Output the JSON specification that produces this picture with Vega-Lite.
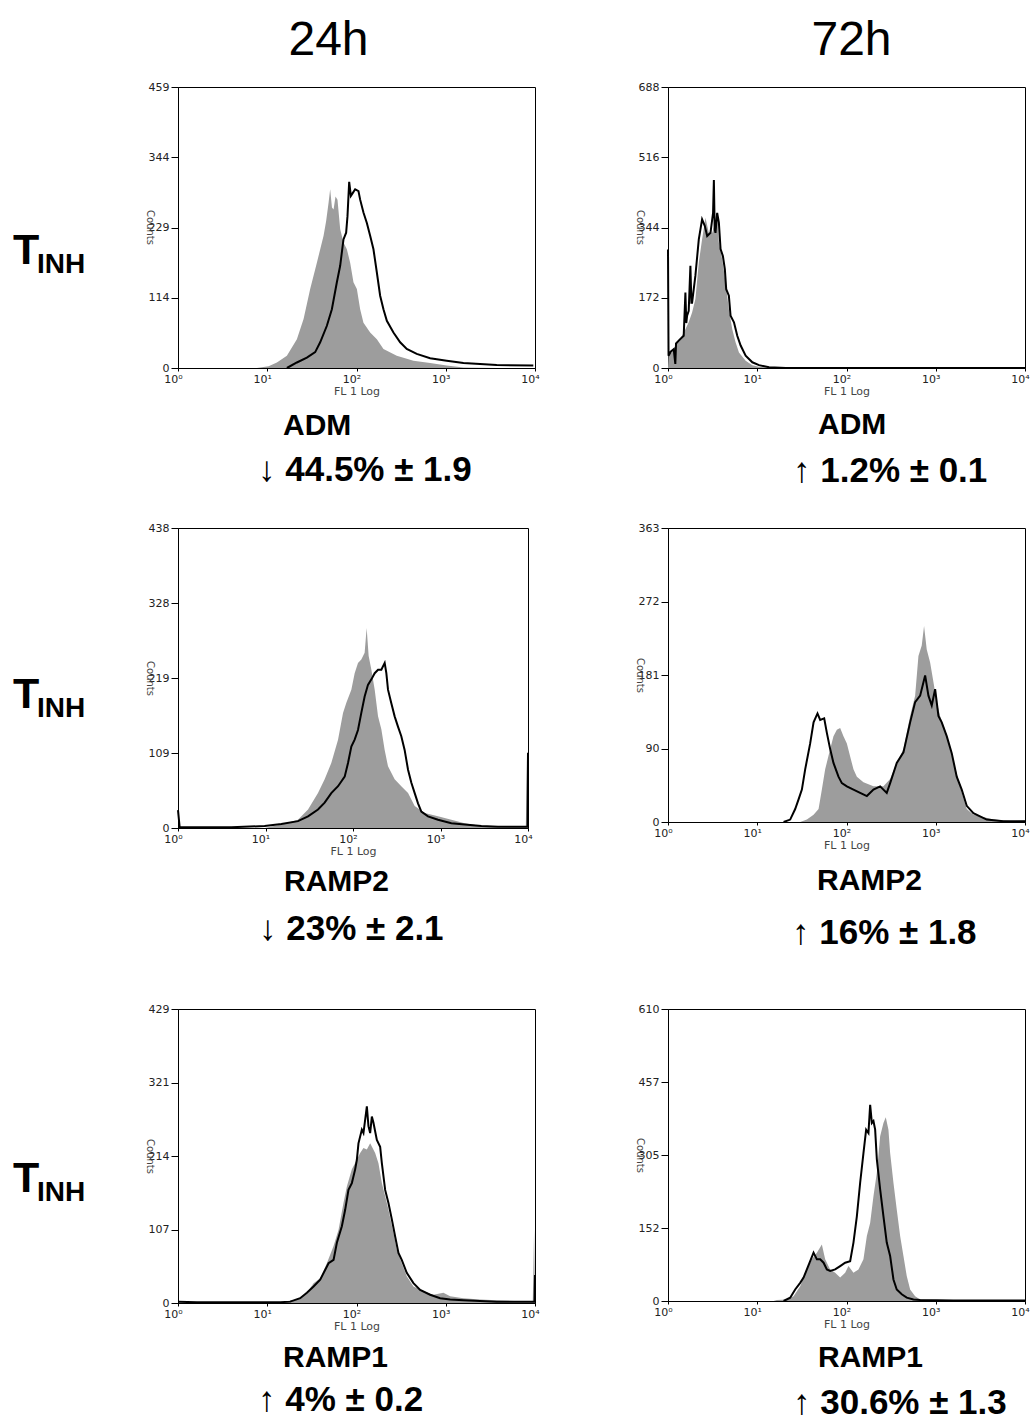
{
  "$schema": "https://vega.github.io/schema/vega-lite/v6.json",
  "background": "white",
  "padding": {"left": 0, "top": 15, "right": 0, "bottom": 5},
  "columns": 3,
  "spacing": {"row": 160, "column": 133},
  "bounds": "flush",
  "config": {
    "view": {"stroke": "#000", "strokeWidth": 1},
    "font": "Liberation Sans",
    "axis": {"grid": false, "domainColor": "#000", "tickColor": "#000", "labelColor": "#222", "labelFont": "DejaVu Sans", "labelFontSize": 11, "titleFont": "DejaVu Sans", "titleFontWeight": "normal", "titleFontSize": 11, "titleColor": "#444", "labelFlush": false, "labelOverlap": false}
  },
  "datasets": {
    "p1_grey": [{"logFL":0.884,"count":0},{"logFL":1.015,"count":3},{"logFL":1.108,"count":9},{"logFL":1.22,"count":20},{"logFL":1.332,"count":47},{"logFL":1.407,"count":80},{"logFL":1.481,"count":129},{"logFL":1.556,"count":172},{"logFL":1.631,"count":216},{"logFL":1.66,"count":240},{"logFL":1.687,"count":270},{"logFL":1.705,"count":292},{"logFL":1.725,"count":262},{"logFL":1.743,"count":259},{"logFL":1.765,"count":280},{"logFL":1.787,"count":275},{"logFL":1.817,"count":227},{"logFL":1.854,"count":205},{"logFL":1.892,"count":194},{"logFL":1.929,"count":172},{"logFL":1.966,"count":140},{"logFL":2.004,"count":129},{"logFL":2.041,"count":96},{"logFL":2.078,"count":74},{"logFL":2.153,"count":58},{"logFL":2.228,"count":47},{"logFL":2.302,"count":31},{"logFL":2.451,"count":20},{"logFL":2.638,"count":12},{"logFL":2.825,"count":8},{"logFL":3.011,"count":4},{"logFL":3.198,"count":1},{"logFL":3.571,"count":0},{"logFL":4.0,"count":0}],
    "p1_black": [{"logFL":1.22,"count":0},{"logFL":1.332,"count":9},{"logFL":1.444,"count":17},{"logFL":1.537,"count":26},{"logFL":1.593,"count":42},{"logFL":1.668,"count":69},{"logFL":1.724,"count":96},{"logFL":1.78,"count":140},{"logFL":1.817,"count":167},{"logFL":1.854,"count":210},{"logFL":1.884,"count":221},{"logFL":1.899,"count":248},{"logFL":1.918,"count":304},{"logFL":1.937,"count":281},{"logFL":1.959,"count":286},{"logFL":1.985,"count":292},{"logFL":2.022,"count":289},{"logFL":2.041,"count":275},{"logFL":2.078,"count":254},{"logFL":2.116,"count":237},{"logFL":2.153,"count":216},{"logFL":2.19,"count":194},{"logFL":2.228,"count":156},{"logFL":2.265,"count":118},{"logFL":2.302,"count":96},{"logFL":2.34,"count":77},{"logFL":2.414,"count":58},{"logFL":2.489,"count":42},{"logFL":2.563,"count":31},{"logFL":2.675,"count":23},{"logFL":2.825,"count":16},{"logFL":3.011,"count":12},{"logFL":3.198,"count":8},{"logFL":3.571,"count":5},{"logFL":3.981,"count":4}],
    "p2_grey": [{"logFL":0.0,"count":0},{"logFL":0.008,"count":40},{"logFL":0.045,"count":38},{"logFL":0.101,"count":63},{"logFL":0.157,"count":79},{"logFL":0.195,"count":95},{"logFL":0.232,"count":112},{"logFL":0.27,"count":136},{"logFL":0.307,"count":169},{"logFL":0.345,"count":258},{"logFL":0.382,"count":315},{"logFL":0.42,"count":368},{"logFL":0.457,"count":331},{"logFL":0.495,"count":331},{"logFL":0.532,"count":356},{"logFL":0.555,"count":364},{"logFL":0.57,"count":307},{"logFL":0.607,"count":266},{"logFL":0.645,"count":209},{"logFL":0.682,"count":144},{"logFL":0.72,"count":95},{"logFL":0.757,"count":63},{"logFL":0.795,"count":38},{"logFL":0.87,"count":18},{"logFL":0.945,"count":7},{"logFL":1.02,"count":3},{"logFL":1.132,"count":1},{"logFL":1.245,"count":0},{"logFL":4.0,"count":0}],
    "p2_black": [{"logFL":0.0,"count":290},{"logFL":0.006,"count":30},{"logFL":0.03,"count":40},{"logFL":0.064,"count":46},{"logFL":0.082,"count":10},{"logFL":0.09,"count":60},{"logFL":0.12,"count":67},{"logFL":0.176,"count":79},{"logFL":0.195,"count":185},{"logFL":0.205,"count":110},{"logFL":0.214,"count":128},{"logFL":0.232,"count":140},{"logFL":0.251,"count":250},{"logFL":0.262,"count":160},{"logFL":0.27,"count":160},{"logFL":0.307,"count":226},{"logFL":0.345,"count":315},{"logFL":0.382,"count":364},{"logFL":0.412,"count":348},{"logFL":0.439,"count":323},{"logFL":0.476,"count":331},{"logFL":0.505,"count":380},{"logFL":0.514,"count":460},{"logFL":0.523,"count":340},{"logFL":0.532,"count":331},{"logFL":0.551,"count":380},{"logFL":0.57,"count":356},{"logFL":0.589,"count":291},{"logFL":0.615,"count":274},{"logFL":0.637,"count":242},{"logFL":0.652,"count":193},{"logFL":0.682,"count":177},{"logFL":0.701,"count":128},{"logFL":0.739,"count":112},{"logFL":0.776,"count":79},{"logFL":0.814,"count":55},{"logFL":0.87,"count":30},{"logFL":0.945,"count":14},{"logFL":1.02,"count":7},{"logFL":1.132,"count":2},{"logFL":1.32,"count":0},{"logFL":4.0,"count":0}],
    "p3_grey": [{"logFL":0.99,"count":0},{"logFL":1.181,"count":5},{"logFL":1.371,"count":12},{"logFL":1.486,"count":27},{"logFL":1.6,"count":51},{"logFL":1.676,"count":71},{"logFL":1.752,"count":95},{"logFL":1.829,"count":129},{"logFL":1.886,"count":168},{"logFL":1.924,"count":183},{"logFL":1.981,"count":202},{"logFL":2.019,"count":226},{"logFL":2.057,"count":241},{"logFL":2.095,"count":246},{"logFL":2.133,"count":256},{"logFL":2.156,"count":292},{"logFL":2.179,"count":251},{"logFL":2.21,"count":231},{"logFL":2.248,"count":202},{"logFL":2.286,"count":163},{"logFL":2.324,"count":144},{"logFL":2.362,"count":114},{"logFL":2.4,"count":90},{"logFL":2.476,"count":71},{"logFL":2.552,"count":61},{"logFL":2.629,"count":51},{"logFL":2.705,"count":32},{"logFL":2.819,"count":22},{"logFL":2.971,"count":17},{"logFL":3.124,"count":12},{"logFL":3.276,"count":7},{"logFL":3.467,"count":3},{"logFL":3.657,"count":1},{"logFL":3.975,"count":2},{"logFL":3.99,"count":114},{"logFL":4.0,"count":0}],
    "p3_black": [{"logFL":0.0,"count":26},{"logFL":0.019,"count":1},{"logFL":0.61,"count":1},{"logFL":0.99,"count":3},{"logFL":1.181,"count":6},{"logFL":1.371,"count":10},{"logFL":1.486,"count":17},{"logFL":1.6,"count":27},{"logFL":1.676,"count":37},{"logFL":1.752,"count":51},{"logFL":1.829,"count":61},{"logFL":1.905,"count":75},{"logFL":1.943,"count":95},{"logFL":1.981,"count":119},{"logFL":2.019,"count":129},{"logFL":2.057,"count":143},{"logFL":2.095,"count":168},{"logFL":2.133,"count":192},{"logFL":2.171,"count":209},{"logFL":2.21,"count":217},{"logFL":2.248,"count":226},{"logFL":2.286,"count":231},{"logFL":2.324,"count":231},{"logFL":2.362,"count":241},{"logFL":2.381,"count":226},{"logFL":2.4,"count":202},{"logFL":2.438,"count":182},{"logFL":2.476,"count":163},{"logFL":2.514,"count":148},{"logFL":2.552,"count":134},{"logFL":2.59,"count":114},{"logFL":2.629,"count":85},{"logFL":2.667,"count":66},{"logFL":2.705,"count":51},{"logFL":2.743,"count":36},{"logFL":2.781,"count":24},{"logFL":2.857,"count":17},{"logFL":2.971,"count":12},{"logFL":3.124,"count":7},{"logFL":3.276,"count":5},{"logFL":3.467,"count":3},{"logFL":3.657,"count":2},{"logFL":3.995,"count":2},{"logFL":4.0,"count":110}],
    "p4_grey": [{"logFL":1.481,"count":0},{"logFL":1.556,"count":3},{"logFL":1.631,"count":9},{"logFL":1.687,"count":16},{"logFL":1.724,"count":40},{"logFL":1.761,"count":65},{"logFL":1.799,"count":82},{"logFL":1.854,"count":106},{"logFL":1.892,"count":114},{"logFL":1.929,"count":116},{"logFL":1.966,"count":106},{"logFL":2.004,"count":97},{"logFL":2.041,"count":81},{"logFL":2.078,"count":65},{"logFL":2.116,"count":56},{"logFL":2.19,"count":49},{"logFL":2.302,"count":44},{"logFL":2.414,"count":44},{"logFL":2.489,"count":53},{"logFL":2.563,"count":73},{"logFL":2.638,"count":90},{"logFL":2.713,"count":131},{"logFL":2.769,"count":156},{"logFL":2.806,"count":205},{"logFL":2.843,"count":218},{"logFL":2.869,"count":242},{"logFL":2.899,"count":213},{"logFL":2.937,"count":197},{"logFL":2.974,"count":173},{"logFL":3.011,"count":148},{"logFL":3.049,"count":131},{"logFL":3.104,"count":114},{"logFL":3.16,"count":90},{"logFL":3.235,"count":60},{"logFL":3.291,"count":36},{"logFL":3.347,"count":16},{"logFL":3.422,"count":9},{"logFL":3.496,"count":7},{"logFL":3.646,"count":3},{"logFL":3.869,"count":1},{"logFL":4.0,"count":2}],
    "p4_black": [{"logFL":1.295,"count":0},{"logFL":1.369,"count":3},{"logFL":1.425,"count":16},{"logFL":1.463,"count":28},{"logFL":1.5,"count":40},{"logFL":1.537,"count":65},{"logFL":1.593,"count":97},{"logFL":1.631,"count":123},{"logFL":1.675,"count":134},{"logFL":1.705,"count":126},{"logFL":1.75,"count":128},{"logFL":1.78,"count":110},{"logFL":1.817,"count":90},{"logFL":1.854,"count":73},{"logFL":1.91,"count":56},{"logFL":1.948,"count":48},{"logFL":2.004,"count":44},{"logFL":2.078,"count":40},{"logFL":2.153,"count":36},{"logFL":2.228,"count":32},{"logFL":2.302,"count":40},{"logFL":2.377,"count":44},{"logFL":2.451,"count":36},{"logFL":2.489,"count":48},{"logFL":2.563,"count":73},{"logFL":2.638,"count":86},{"logFL":2.713,"count":123},{"logFL":2.769,"count":148},{"logFL":2.825,"count":156},{"logFL":2.881,"count":181},{"logFL":2.918,"count":156},{"logFL":2.955,"count":144},{"logFL":2.993,"count":164},{"logFL":3.03,"count":131},{"logFL":3.067,"count":123},{"logFL":3.123,"count":106},{"logFL":3.179,"count":85},{"logFL":3.235,"count":56},{"logFL":3.291,"count":40},{"logFL":3.347,"count":20},{"logFL":3.422,"count":11},{"logFL":3.496,"count":7},{"logFL":3.571,"count":3},{"logFL":3.757,"count":1},{"logFL":4.0,"count":1}],
    "p5_grey": [{"logFL":1.071,"count":0},{"logFL":1.146,"count":1},{"logFL":1.332,"count":5},{"logFL":1.444,"count":15},{"logFL":1.519,"count":29},{"logFL":1.593,"count":36},{"logFL":1.668,"count":58},{"logFL":1.743,"count":83},{"logFL":1.799,"count":107},{"logFL":1.854,"count":146},{"logFL":1.892,"count":170},{"logFL":1.948,"count":195},{"logFL":2.004,"count":209},{"logFL":2.041,"count":219},{"logFL":2.078,"count":226},{"logFL":2.116,"count":224},{"logFL":2.153,"count":233},{"logFL":2.209,"count":219},{"logFL":2.246,"count":204},{"logFL":2.284,"count":175},{"logFL":2.321,"count":156},{"logFL":2.358,"count":136},{"logFL":2.414,"count":102},{"logFL":2.451,"count":78},{"logFL":2.507,"count":58},{"logFL":2.563,"count":39},{"logFL":2.638,"count":24},{"logFL":2.75,"count":17},{"logFL":2.862,"count":12},{"logFL":2.974,"count":15},{"logFL":3.049,"count":10},{"logFL":3.198,"count":7},{"logFL":3.384,"count":5},{"logFL":3.571,"count":4},{"logFL":3.975,"count":2},{"logFL":3.99,"count":107},{"logFL":4.0,"count":0}],
    "p5_black": [{"logFL":0.0,"count":2},{"logFL":0.213,"count":1},{"logFL":1.146,"count":1},{"logFL":1.257,"count":2},{"logFL":1.369,"count":7},{"logFL":1.444,"count":15},{"logFL":1.519,"count":24},{"logFL":1.593,"count":34},{"logFL":1.687,"count":58},{"logFL":1.743,"count":63},{"logFL":1.78,"count":88},{"logFL":1.836,"count":112},{"logFL":1.873,"count":136},{"logFL":1.91,"count":165},{"logFL":1.948,"count":175},{"logFL":1.985,"count":195},{"logFL":2.004,"count":209},{"logFL":2.022,"count":233},{"logFL":2.06,"count":253},{"logFL":2.078,"count":248},{"logFL":2.116,"count":287},{"logFL":2.134,"count":258},{"logFL":2.153,"count":248},{"logFL":2.172,"count":272},{"logFL":2.19,"count":263},{"logFL":2.228,"count":238},{"logFL":2.265,"count":228},{"logFL":2.284,"count":204},{"logFL":2.321,"count":165},{"logFL":2.358,"count":146},{"logFL":2.396,"count":122},{"logFL":2.433,"count":97},{"logFL":2.47,"count":73},{"logFL":2.507,"count":63},{"logFL":2.563,"count":44},{"logFL":2.638,"count":29},{"logFL":2.713,"count":19},{"logFL":2.825,"count":12},{"logFL":2.937,"count":7},{"logFL":3.049,"count":5},{"logFL":3.198,"count":4},{"logFL":3.571,"count":2},{"logFL":3.995,"count":2},{"logFL":4.0,"count":41}],
    "p6_grey": [{"logFL":1.183,"count":0},{"logFL":1.22,"count":2},{"logFL":1.332,"count":3},{"logFL":1.407,"count":10},{"logFL":1.481,"count":31},{"logFL":1.556,"count":66},{"logFL":1.612,"count":87},{"logFL":1.668,"count":101},{"logFL":1.724,"count":118},{"logFL":1.761,"count":87},{"logFL":1.817,"count":66},{"logFL":1.873,"count":59},{"logFL":1.929,"count":49},{"logFL":1.985,"count":59},{"logFL":2.022,"count":73},{"logFL":2.078,"count":59},{"logFL":2.134,"count":66},{"logFL":2.19,"count":87},{"logFL":2.228,"count":136},{"logFL":2.265,"count":163},{"logFL":2.302,"count":219},{"logFL":2.34,"count":268},{"logFL":2.377,"count":344},{"logFL":2.414,"count":372},{"logFL":2.44,"count":384},{"logFL":2.47,"count":358},{"logFL":2.489,"count":309},{"logFL":2.526,"count":247},{"logFL":2.563,"count":191},{"logFL":2.601,"count":136},{"logFL":2.638,"count":94},{"logFL":2.675,"count":52},{"logFL":2.713,"count":24},{"logFL":2.769,"count":10},{"logFL":2.825,"count":3},{"logFL":3.011,"count":2},{"logFL":3.571,"count":1},{"logFL":4.0,"count":0}],
    "p6_black": [{"logFL":1.295,"count":0},{"logFL":1.369,"count":7},{"logFL":1.425,"count":24},{"logFL":1.481,"count":38},{"logFL":1.519,"count":49},{"logFL":1.556,"count":66},{"logFL":1.601,"count":87},{"logFL":1.631,"count":101},{"logFL":1.668,"count":87},{"logFL":1.705,"count":87},{"logFL":1.743,"count":80},{"logFL":1.78,"count":66},{"logFL":1.817,"count":63},{"logFL":1.873,"count":66},{"logFL":1.929,"count":73},{"logFL":1.985,"count":80},{"logFL":2.041,"count":83},{"logFL":2.078,"count":122},{"logFL":2.116,"count":177},{"logFL":2.153,"count":247},{"logFL":2.19,"count":309},{"logFL":2.22,"count":358},{"logFL":2.246,"count":351},{"logFL":2.265,"count":410},{"logFL":2.284,"count":372},{"logFL":2.302,"count":376},{"logFL":2.321,"count":358},{"logFL":2.34,"count":296},{"logFL":2.377,"count":233},{"logFL":2.414,"count":177},{"logFL":2.451,"count":122},{"logFL":2.489,"count":94},{"logFL":2.526,"count":45},{"logFL":2.563,"count":24},{"logFL":2.619,"count":14},{"logFL":2.675,"count":7},{"logFL":2.75,"count":3},{"logFL":2.825,"count":2},{"logFL":3.198,"count":1},{"logFL":4.0,"count":1}]
  },
  "concat": [
    {
      "width": 45, "height": 281, "view": {"stroke": null},
      "data": {"values": [{"main": "T", "sub": "INH"}]},
      "layer": [
        {"mark": {"type": "text", "font": "Liberation Sans", "fontSize": 43, "fontWeight": "bold", "color": "#000", "align": "left", "baseline": "alphabetic", "dx": -9.5, "dy": 36.5}, "encoding": {"text": {"field": "main"}}},
        {"mark": {"type": "text", "font": "Liberation Sans", "fontSize": 28, "fontWeight": "bold", "color": "#000", "align": "left", "baseline": "alphabetic", "dx": 14.5, "dy": 45.5}, "encoding": {"text": {"field": "sub"}}}
      ]
    },
    {
      "width": 357, "height": 281,
      "title": {"text": "\u200b\u00a0\u00a0\u00a0ADM", "subtitle": "↓ 44.5% ± 1.9", "orient": "bottom", "anchor": "start", "frame": "group", "dx": 80, "offset": 15, "subtitlePadding": 12, "font": "Liberation Sans", "fontSize": 30, "fontWeight": "bold", "color": "#000", "subtitleFont": "Liberation Sans", "subtitleFontSize": 35, "subtitleFontWeight": "bold", "subtitleColor": "#000"},
      "encoding": {"y": {"field": "count", "type": "quantitative", "scale": {"domain": [0, 459], "nice": false}, "axis": {"values": [0, 114.75, 229.5, 344.25, 459], "labelExpr": "floor(datum.value)", "title": "Counts", "titleAngle": 90, "titleX": -29, "titleY": 140, "titleAlign": "center", "titleBaseline": "middle", "titleFontSize": 10, "tickSize": 7, "labelPadding": 2}}},
      "layer": [
        {"data": {"name": "p1_grey"}, "mark": {"type": "area", "color": "#9d9d9d"}, "encoding": {"x": {"field": "logFL", "type": "quantitative", "scale": {"domain": [0, 4], "nice": false, "zero": false}, "axis": {"orient": "bottom", "values": [0, 1, 2, 3, 4], "labelExpr": "'10' + ['⁰','¹','²','³','⁴'][datum.value]", "labelOffset": -5, "title": "FL 1 Log", "tickSize": 3, "labelPadding": 2, "titlePadding": 1}}}},
        {"data": {"name": "p1_black"}, "mark": {"type": "line", "color": "#000", "strokeWidth": 2}, "encoding": {"x": {"field": "logFL", "type": "quantitative", "scale": {"domain": [0, 4], "nice": false, "zero": false}, "axis": {"orient": "top", "labels": false, "ticks": false, "domain": false, "title": "24h", "titleFont": "Liberation Sans", "titleFontSize": 48, "titleColor": "#000", "titleX": 150, "titleY": -33, "titleAlign": "center", "titleBaseline": "alphabetic"}}}}
      ],
      "resolve": {"axis": {"x": "independent"}}
    },
    {
      "width": 357, "height": 281,
      "title": {"text": "\u200b\u00a0\u00a0\u00a0ADM", "subtitle": "↑ 1.2% ± 0.1", "orient": "bottom", "anchor": "start", "frame": "group", "dx": 125, "offset": 14, "subtitlePadding": 14, "font": "Liberation Sans", "fontSize": 30, "fontWeight": "bold", "color": "#000", "subtitleFont": "Liberation Sans", "subtitleFontSize": 35, "subtitleFontWeight": "bold", "subtitleColor": "#000"},
      "encoding": {"y": {"field": "count", "type": "quantitative", "scale": {"domain": [0, 688], "nice": false}, "axis": {"values": [0, 172, 344, 516, 688], "labelExpr": "floor(datum.value)", "title": "Counts", "titleAngle": 90, "titleX": -29, "titleY": 140, "titleAlign": "center", "titleBaseline": "middle", "titleFontSize": 10, "tickSize": 7, "labelPadding": 2}}},
      "layer": [
        {"data": {"name": "p2_grey"}, "mark": {"type": "area", "color": "#9d9d9d"}, "encoding": {"x": {"field": "logFL", "type": "quantitative", "scale": {"domain": [0, 4], "nice": false, "zero": false}, "axis": {"orient": "bottom", "values": [0, 1, 2, 3, 4], "labelExpr": "'10' + ['⁰','¹','²','³','⁴'][datum.value]", "labelOffset": -5, "title": "FL 1 Log", "tickSize": 3, "labelPadding": 2, "titlePadding": 1}}}},
        {"data": {"name": "p2_black"}, "mark": {"type": "line", "color": "#000", "strokeWidth": 2}, "encoding": {"x": {"field": "logFL", "type": "quantitative", "scale": {"domain": [0, 4], "nice": false, "zero": false}, "axis": {"orient": "top", "labels": false, "ticks": false, "domain": false, "title": "72h", "titleFont": "Liberation Sans", "titleFontSize": 48, "titleColor": "#000", "titleX": 183, "titleY": -33, "titleAlign": "center", "titleBaseline": "alphabetic"}}}}
      ],
      "resolve": {"axis": {"x": "independent"}}
    },
    {
      "width": 45, "height": 321, "view": {"stroke": null},
      "data": {"values": [{"main": "T", "sub": "INH"}]},
      "layer": [
        {"mark": {"type": "text", "font": "Liberation Sans", "fontSize": 43, "fontWeight": "bold", "color": "#000", "align": "left", "baseline": "alphabetic", "dx": -9.5, "dy": 19}, "encoding": {"text": {"field": "main"}}},
        {"mark": {"type": "text", "font": "Liberation Sans", "fontSize": 28, "fontWeight": "bold", "color": "#000", "align": "left", "baseline": "alphabetic", "dx": 14.5, "dy": 28}, "encoding": {"text": {"field": "sub"}}}
      ]
    },
    {
      "width": 350, "height": 300,
      "title": {"text": "\u200b\u00a0\u00a0\u00a0RAMP2", "subtitle": "↓ 23% ± 2.1", "orient": "bottom", "anchor": "start", "frame": "group", "dx": 81, "offset": 11, "subtitlePadding": 15, "font": "Liberation Sans", "fontSize": 30, "fontWeight": "bold", "color": "#000", "subtitleFont": "Liberation Sans", "subtitleFontSize": 35, "subtitleFontWeight": "bold", "subtitleColor": "#000"},
      "encoding": {"y": {"field": "count", "type": "quantitative", "scale": {"domain": [0, 438], "nice": false}, "axis": {"values": [0, 109.5, 219, 328.5, 438], "labelExpr": "floor(datum.value)", "title": "Counts", "titleAngle": 90, "titleX": -29, "titleY": 150, "titleAlign": "center", "titleBaseline": "middle", "titleFontSize": 10, "tickSize": 7, "labelPadding": 2}}},
      "layer": [
        {"data": {"name": "p3_grey"}, "mark": {"type": "area", "color": "#9d9d9d"}, "encoding": {"x": {"field": "logFL", "type": "quantitative", "scale": {"domain": [0, 4], "nice": false, "zero": false}, "axis": {"orient": "bottom", "values": [0, 1, 2, 3, 4], "labelExpr": "'10' + ['⁰','¹','²','³','⁴'][datum.value]", "labelOffset": -5, "title": "FL 1 Log", "tickSize": 3, "labelPadding": 2, "titlePadding": 1}}}},
        {"data": {"name": "p3_black"}, "mark": {"type": "line", "color": "#000", "strokeWidth": 2}, "encoding": {"x": {"field": "logFL", "type": "quantitative", "scale": {"domain": [0, 4], "nice": false, "zero": false}, "axis": null}}}
      ],
      "resolve": {"axis": {"x": "independent"}}
    },
    {
      "width": 357, "height": 294,
      "title": {"text": "\u200b\u00a0\u00a0\u00a0RAMP2", "subtitle": "↑ 16% ± 1.8", "orient": "bottom", "anchor": "start", "frame": "group", "dx": 124, "offset": 16, "subtitlePadding": 20, "font": "Liberation Sans", "fontSize": 30, "fontWeight": "bold", "color": "#000", "subtitleFont": "Liberation Sans", "subtitleFontSize": 35, "subtitleFontWeight": "bold", "subtitleColor": "#000"},
      "encoding": {"y": {"field": "count", "type": "quantitative", "scale": {"domain": [0, 363], "nice": false}, "axis": {"values": [0, 90.75, 181.5, 272.25, 363], "labelExpr": "floor(datum.value)", "title": "Counts", "titleAngle": 90, "titleX": -29, "titleY": 147, "titleAlign": "center", "titleBaseline": "middle", "titleFontSize": 10, "tickSize": 7, "labelPadding": 2}}},
      "layer": [
        {"data": {"name": "p4_grey"}, "mark": {"type": "area", "color": "#9d9d9d"}, "encoding": {"x": {"field": "logFL", "type": "quantitative", "scale": {"domain": [0, 4], "nice": false, "zero": false}, "axis": {"orient": "bottom", "values": [0, 1, 2, 3, 4], "labelExpr": "'10' + ['⁰','¹','²','³','⁴'][datum.value]", "labelOffset": -5, "title": "FL 1 Log", "tickSize": 3, "labelPadding": 2, "titlePadding": 1}}}},
        {"data": {"name": "p4_black"}, "mark": {"type": "line", "color": "#000", "strokeWidth": 2}, "encoding": {"x": {"field": "logFL", "type": "quantitative", "scale": {"domain": [0, 4], "nice": false, "zero": false}, "axis": null}}}
      ],
      "resolve": {"axis": {"x": "independent"}}
    },
    {
      "width": 45, "height": 292, "view": {"stroke": null},
      "data": {"values": [{"main": "T", "sub": "INH"}]},
      "layer": [
        {"mark": {"type": "text", "font": "Liberation Sans", "fontSize": 43, "fontWeight": "bold", "color": "#000", "align": "left", "baseline": "alphabetic", "dx": -9.5, "dy": 37}, "encoding": {"text": {"field": "main"}}},
        {"mark": {"type": "text", "font": "Liberation Sans", "fontSize": 28, "fontWeight": "bold", "color": "#000", "align": "left", "baseline": "alphabetic", "dx": 14.5, "dy": 46}, "encoding": {"text": {"field": "sub"}}}
      ]
    },
    {
      "width": 357, "height": 294,
      "title": {"text": "\u200b\u00a0\u00a0\u00a0RAMP1", "subtitle": "↑ 4% ± 0.2", "orient": "bottom", "anchor": "start", "frame": "group", "dx": 80, "offset": 12, "subtitlePadding": 10, "font": "Liberation Sans", "fontSize": 30, "fontWeight": "bold", "color": "#000", "subtitleFont": "Liberation Sans", "subtitleFontSize": 35, "subtitleFontWeight": "bold", "subtitleColor": "#000"},
      "encoding": {"y": {"field": "count", "type": "quantitative", "scale": {"domain": [0, 429], "nice": false}, "axis": {"values": [0, 107.25, 214.5, 321.75, 429], "labelExpr": "floor(datum.value)", "title": "Counts", "titleAngle": 90, "titleX": -29, "titleY": 147, "titleAlign": "center", "titleBaseline": "middle", "titleFontSize": 10, "tickSize": 7, "labelPadding": 2}}},
      "layer": [
        {"data": {"name": "p5_grey"}, "mark": {"type": "area", "color": "#9d9d9d"}, "encoding": {"x": {"field": "logFL", "type": "quantitative", "scale": {"domain": [0, 4], "nice": false, "zero": false}, "axis": {"orient": "bottom", "values": [0, 1, 2, 3, 4], "labelExpr": "'10' + ['⁰','¹','²','³','⁴'][datum.value]", "labelOffset": -5, "title": "FL 1 Log", "tickSize": 3, "labelPadding": 2, "titlePadding": 1}}}},
        {"data": {"name": "p5_black"}, "mark": {"type": "line", "color": "#000", "strokeWidth": 2}, "encoding": {"x": {"field": "logFL", "type": "quantitative", "scale": {"domain": [0, 4], "nice": false, "zero": false}, "axis": null}}}
      ],
      "resolve": {"axis": {"x": "independent"}}
    },
    {
      "width": 357, "height": 292,
      "title": {"text": "\u200b\u00a0\u00a0\u00a0RAMP1", "subtitle": "↑ 30.6% ± 1.3", "orient": "bottom", "anchor": "start", "frame": "group", "dx": 125, "offset": 14, "subtitlePadding": 13, "font": "Liberation Sans", "fontSize": 30, "fontWeight": "bold", "color": "#000", "subtitleFont": "Liberation Sans", "subtitleFontSize": 35, "subtitleFontWeight": "bold", "subtitleColor": "#000"},
      "encoding": {"y": {"field": "count", "type": "quantitative", "scale": {"domain": [0, 610], "nice": false}, "axis": {"values": [0, 152.5, 305, 457.5, 610], "labelExpr": "floor(datum.value)", "title": "Counts", "titleAngle": 90, "titleX": -29, "titleY": 146, "titleAlign": "center", "titleBaseline": "middle", "titleFontSize": 10, "tickSize": 7, "labelPadding": 2}}},
      "layer": [
        {"data": {"name": "p6_grey"}, "mark": {"type": "area", "color": "#9d9d9d"}, "encoding": {"x": {"field": "logFL", "type": "quantitative", "scale": {"domain": [0, 4], "nice": false, "zero": false}, "axis": {"orient": "bottom", "values": [0, 1, 2, 3, 4], "labelExpr": "'10' + ['⁰','¹','²','³','⁴'][datum.value]", "labelOffset": -5, "title": "FL 1 Log", "tickSize": 3, "labelPadding": 2, "titlePadding": 1}}}},
        {"data": {"name": "p6_black"}, "mark": {"type": "line", "color": "#000", "strokeWidth": 2}, "encoding": {"x": {"field": "logFL", "type": "quantitative", "scale": {"domain": [0, 4], "nice": false, "zero": false}, "axis": null}}}
      ],
      "resolve": {"axis": {"x": "independent"}}
    }
  ]
}
